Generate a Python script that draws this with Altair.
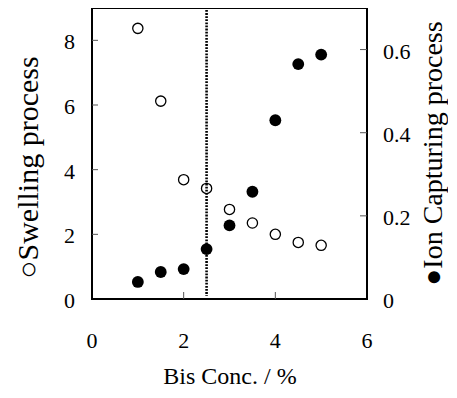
import altair as alt
import pandas as pd

conc = [1.0, 1.5, 2.0, 2.5, 3.0, 3.5, 4.0, 4.5, 5.0]
swelling = [8.37, 6.12, 3.69, 3.42, 2.77, 2.35, 2.00, 1.75, 1.66]
capturing = [0.041, 0.065, 0.072, 0.120, 0.177, 0.258, 0.430, 0.565, 0.588]
threshold = [2.5]
x_ticks = [0, 2, 4, 6]
x_labels = ["0", "2", "4", "6"]
left_ticks = [0, 2, 4, 6, 8]
left_labels = ["0", "2", "4", "6", "8"]
right_ticks = [0, 0.2, 0.4, 0.6]
right_labels = ["0", "0.2", "0.4", "0.6"]

df = pd.DataFrame({"conc": conc, "swelling": swelling, "capturing": capturing})
thr = pd.DataFrame({"x": threshold})
xt_df = pd.DataFrame({"v": x_ticks, "t": x_labels})
lt_df = pd.DataFrame({"v": left_ticks, "t": left_labels})
rt_df = pd.DataFrame({"v": right_ticks, "t": right_labels})

FONT = "Times New Roman, Liberation Serif, Times, serif"
W, H = 275, 291

common = dict(grid=False, domain=False, ticks=False, labels=False,
              titleFont=FONT, titleColor="black", titleFontWeight="normal")

xscale = alt.Scale(domain=[0, 6], nice=False)
xaxis = alt.Axis(values=x_ticks, title="Bis Conc. / %",
                 titleFontSize=24, titleX=W / 2, titleY=84,
                 titleBaseline="alphabetic", titleAlign="center", **common)

lscale = alt.Scale(domain=[0, 9], nice=False)
rscale = alt.Scale(domain=[0, 0.7], nice=False)

left_axis = alt.Axis(values=left_ticks, title="○Swelling process",
                     titleFontSize=30, titleAngle=270, titleX=-55, titleY=159,
                     titleBaseline="alphabetic", titleAlign="center", **common)
right_axis = alt.Axis(values=right_ticks, title="●Ion Capturing  process",
                      orient="right",
                      titleFontSize=28, titleAngle=270, titleX=74, titleY=145,
                      titleBaseline="alphabetic", titleAlign="center", **common)

base = alt.Chart(df)

open_pts = base.mark_point(shape="circle", filled=False, color="black",
                           strokeWidth=1.3, size=105, opacity=1).encode(
    x=alt.X("conc:Q", scale=xscale, axis=xaxis),
    y=alt.Y("swelling:Q", scale=lscale, axis=left_axis),
)

left_tick_marks = alt.Chart(lt_df[lt_df.v > 0]).mark_rule(color="#555", strokeWidth=1).encode(
    y=alt.Y("v:Q", scale=lscale, axis=left_axis),
    x=alt.value(0), x2=alt.value(6),
)
left_tick_text = alt.Chart(lt_df).mark_text(font=FONT, fontSize=22, color="black",
                                            align="right", baseline="alphabetic",
                                            dy=9).encode(
    y=alt.Y("v:Q", scale=lscale, axis=left_axis),
    x=alt.value(-17), text="t:N",
)
x_tick_marks = alt.Chart(xt_df[(xt_df.v > 0) & (xt_df.v < 6)]).mark_rule(
    color="#555", strokeWidth=1).encode(
    x=alt.X("v:Q", scale=xscale, axis=xaxis),
    y=alt.value(H - 7), y2=alt.value(H),
)
x_tick_text = alt.Chart(xt_df).mark_text(font=FONT, fontSize=22, color="black",
                                         align="center", baseline="alphabetic").encode(
    x=alt.X("v:Q", scale=xscale, axis=xaxis),
    y=alt.value(H + 49), text="t:N",
)

thr_line = alt.Chart(thr).mark_rule(color="black", strokeWidth=2.6,
                                    strokeDash=[1.8, 1.3]).encode(
    x=alt.X("x:Q", scale=xscale, axis=xaxis),
    y=alt.value(2), y2=alt.value(H - 3),
)

left_layer = alt.layer(left_tick_marks, x_tick_marks, left_tick_text, x_tick_text,
                       thr_line, open_pts)

filled_pts = base.mark_point(shape="circle", filled=True, color="black",
                             size=140, opacity=1).encode(
    x=alt.X("conc:Q", scale=xscale, axis=xaxis),
    y=alt.Y("capturing:Q", scale=rscale, axis=right_axis),
)
right_tick_marks = alt.Chart(rt_df[rt_df.v > 0]).mark_rule(color="#555", strokeWidth=1).encode(
    y=alt.Y("v:Q", scale=rscale, axis=right_axis),
    x=alt.value(W - 7), x2=alt.value(W),
)
right_tick_text = alt.Chart(rt_df).mark_text(font=FONT, fontSize=22, color="black",
                                             align="left", baseline="alphabetic",
                                             dy=9).encode(
    y=alt.Y("v:Q", scale=rscale, axis=right_axis),
    x=alt.value(W + 16), text="t:N",
)
right_layer = alt.layer(right_tick_marks, right_tick_text, filled_pts)

chart = alt.layer(left_layer, right_layer).resolve_scale(y="independent").properties(
    width=W, height=H,
    autosize=alt.AutoSizeParams(type="none"),
    padding={"left": 84, "top": 0, "right": 81, "bottom": 90},
).configure_view(stroke="black", strokeWidth=2, clip=False)

chart.save("out.html", embed_options={"renderer": "svg", "actions": False})
